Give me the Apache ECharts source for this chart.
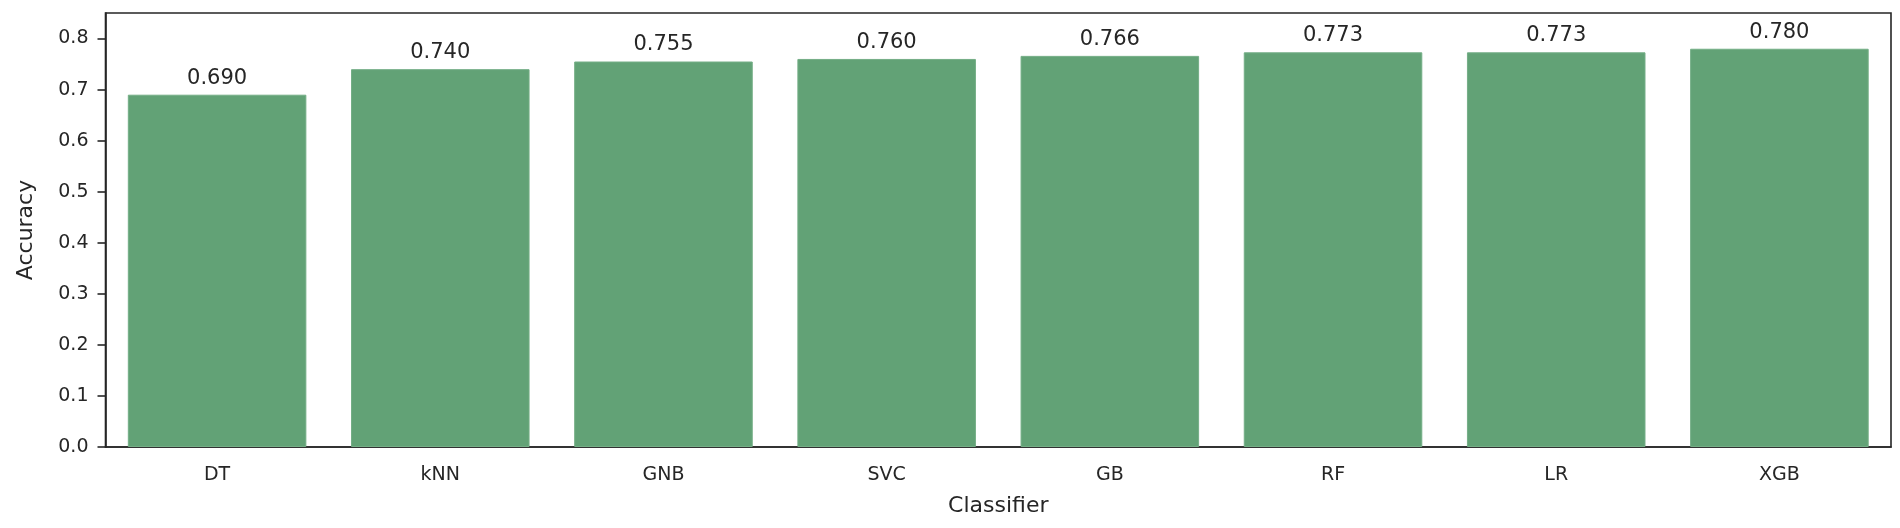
<!DOCTYPE html>
<html>
<head>
<meta charset="utf-8">
<title>Classifier accuracy</title>
<script src="https://cdn.jsdelivr.net/npm/echarts@6/dist/echarts.min.js"></script>
<style>
  html, body { margin: 0; padding: 0; background: #fff; }
  #chart { width: 1900px; height: 528px; }
</style>
</head>
<body>
<div id="chart"></div>
<script>
// classifiers along x, accuracy on y
const classifiers = ["DT", "kNN", "GNB", "SVC", "GB", "RF", "LR", "XGB"];
const accuracy = [0.690, 0.740, 0.755, 0.760, 0.766, 0.773, 0.773, 0.780];
const yTicks = [0, 0.1, 0.2, 0.3, 0.4, 0.5, 0.6, 0.7, 0.8];

const ink = "#262626";
const font = "DejaVu Sans";

const chart = echarts.init(document.getElementById("chart"));

const option = {
  animation: false,
  textStyle: { fontFamily: font },
  grid: {
    left: 105.5,
    right: 9,
    top: 13,
    bottom: 81,
    containLabel: false,
    outerBoundsMode: "none",
    show: true,
    borderColor: ink,
    borderWidth: 1.6,
    backgroundColor: "transparent"
  },
  xAxis: {
    type: "category",
    data: classifiers,
    name: "Classifier",
    nameLocation: "middle",
    nameGap: 48,
    nameTextStyle: { fontSize: 22, color: ink, fontFamily: font },
    axisLine: { lineStyle: { color: ink, width: 1.6 } },
    axisTick: { alignWithLabel: true, length: 8, lineStyle: { color: ink, width: 1.6 } },
    axisLabel: { fontSize: 19, color: ink, margin: 19, fontFamily: font }
  },
  yAxis: {
    type: "value",
    min: 0,
    max: 0.85,
    interval: 0.1,
    name: "Accuracy",
    nameLocation: "middle",
    nameRotate: 90,
    nameGap: 68,
    nameTextStyle: { fontSize: 22, color: ink, fontFamily: font },
    splitLine: { show: false },
    axisLine: { show: true, lineStyle: { color: ink, width: 1.6 } },
    axisTick: { show: true, length: 8, customValues: yTicks, lineStyle: { color: ink, width: 1.6 } },
    axisLabel: {
      fontSize: 19,
      color: ink,
      margin: 17,
      fontFamily: font,
      customValues: yTicks,
      formatter: v => v.toFixed(1)
    }
  },
  series: [
    {
      type: "bar",
      data: accuracy,
      barCategoryGap: "20%",
      itemStyle: { color: "#62a276", borderColor: "#74ae86", borderWidth: 1 },
      label: {
        show: true,
        position: "top",
        distance: 6,
        fontSize: 21,
        color: ink,
        fontFamily: font,
        formatter: p => p.value.toFixed(3)
      }
    }
  ]
};

chart.setOption(option);
window.addEventListener("resize", function () {
  chart.resize();
});
</script>
</body>
</html>
